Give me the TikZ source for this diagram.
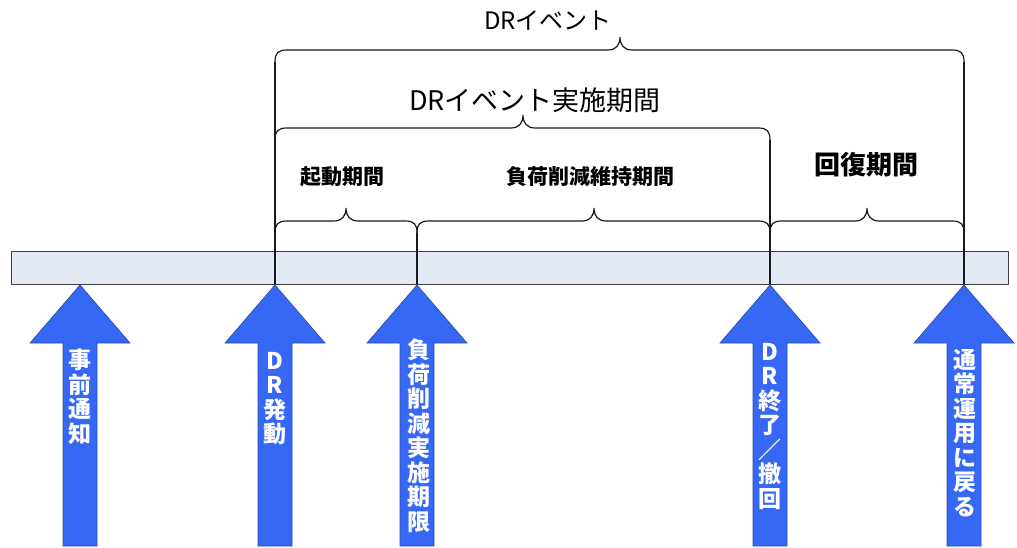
\documentclass[tikz,border=0pt]{standalone}
\usepackage{fontspec}
\setmainfont{Noto Sans CJK JP}
\definecolor{barfill}{HTML}{E4EAF4}
\definecolor{barborder}{HTML}{404040}
\definecolor{arrowblue}{HTML}{3767F5}
\definecolor{arrowedge}{HTML}{2A4AA8}
\newcommand\mybrace[4]{%
  \draw[bracestyle] (#1,#4+12) .. controls (#1,#4+3) and (#1+3,#4) .. (#1+12,#4)
    -- (#3-12,#4) .. controls (#3-4,#4) and (#3,#4-5) .. (#3,#4-13)
    .. controls (#3,#4-5) and (#3+4,#4) .. (#3+12,#4)
    -- (#2-12,#4) .. controls (#2-3,#4) and (#2,#4+3) .. (#2,#4+12);}
\begin{document}
\begin{tikzpicture}[x=1pt,y=-1pt,
  bracestyle/.style={draw=black!90, line width=1.2pt},
  tickline/.style={draw=black!90, line width=1.2pt},
  bigarrow/.style={fill=arrowblue, draw=arrowedge, line width=0.6pt},
  arrowtext/.style={text=white, font=\fontsize{23}{24.5}\selectfont\bfseries, align=center, inner sep=0pt, anchor=north},
  lbl/.style={inner sep=0pt, text=black}]
\useasboundingbox (0,0) rectangle (1017,548);
\fill[white] (0,0) rectangle (1017,548);
% time bar
\node[draw=barborder, fill=barfill, line width=0.9pt, minimum width=997pt, minimum height=33pt, inner sep=0pt, anchor=north west] (bar) at (11,251) {};
% time points on the bar
\coordinate (p1) at (275,284);
\coordinate (p2) at (417,284);
\coordinate (p3) at (770,284);
\coordinate (p4) at (964,284);
% vertical lines
\draw[tickline] (275,62) -- (p1);
\draw[tickline] (417,233) -- (p2);
\draw[tickline] (770,140) -- (p3);
\draw[tickline] (964,62) -- (p4);
% braces
\mybrace{275}{964}{620}{50}
\mybrace{275}{770}{523}{128}
\mybrace{275}{417}{346}{221}
\mybrace{417}{770}{594}{221}
\mybrace{770}{964}{867}{221}
% labels
\node[lbl, font=\fontsize{24}{24}\selectfont] (ev) at (548,20) {DRイベント};
\node[lbl, font=\fontsize{27}{27}\selectfont] (evp) at (535,100) {DRイベント実施期間};
\node[lbl, font=\fontsize{21}{21}\selectfont\bfseries] (s1) at (342,177) {起動期間};
\node[lbl, font=\fontsize{21}{21}\selectfont\bfseries] (s2) at (590,177) {負荷削減維持期間};
\node[lbl, font=\fontsize{26}{26}\selectfont\bfseries] (s3) at (866,165) {回復期間};
% arrows
\foreach \x in {80,275,417,770,964}{
  \path[bigarrow] (\x,285) -- (\x+50,343) -- (\x+17,343) -- (\x+17,546)
    -- (\x-17,546) -- (\x-17,343) -- (\x-50,343) -- cycle;
}
\node[arrowtext] (a0) at (80,349) {事\\前\\通\\知};
\node[arrowtext] (a1) at (275,352) {D\\R\\発\\動};
\node[arrowtext] (a2) at (419,339) {負\\荷\\削\\減\\実\\施\\期\\限};
\node[arrowtext] (a3) at (770,343) {D\\R\\終\\了\\／\\撤\\回};
\node[arrowtext] (a4) at (965,349) {通\\常\\運\\用\\に\\戻\\る};
\end{tikzpicture}
\end{document}
